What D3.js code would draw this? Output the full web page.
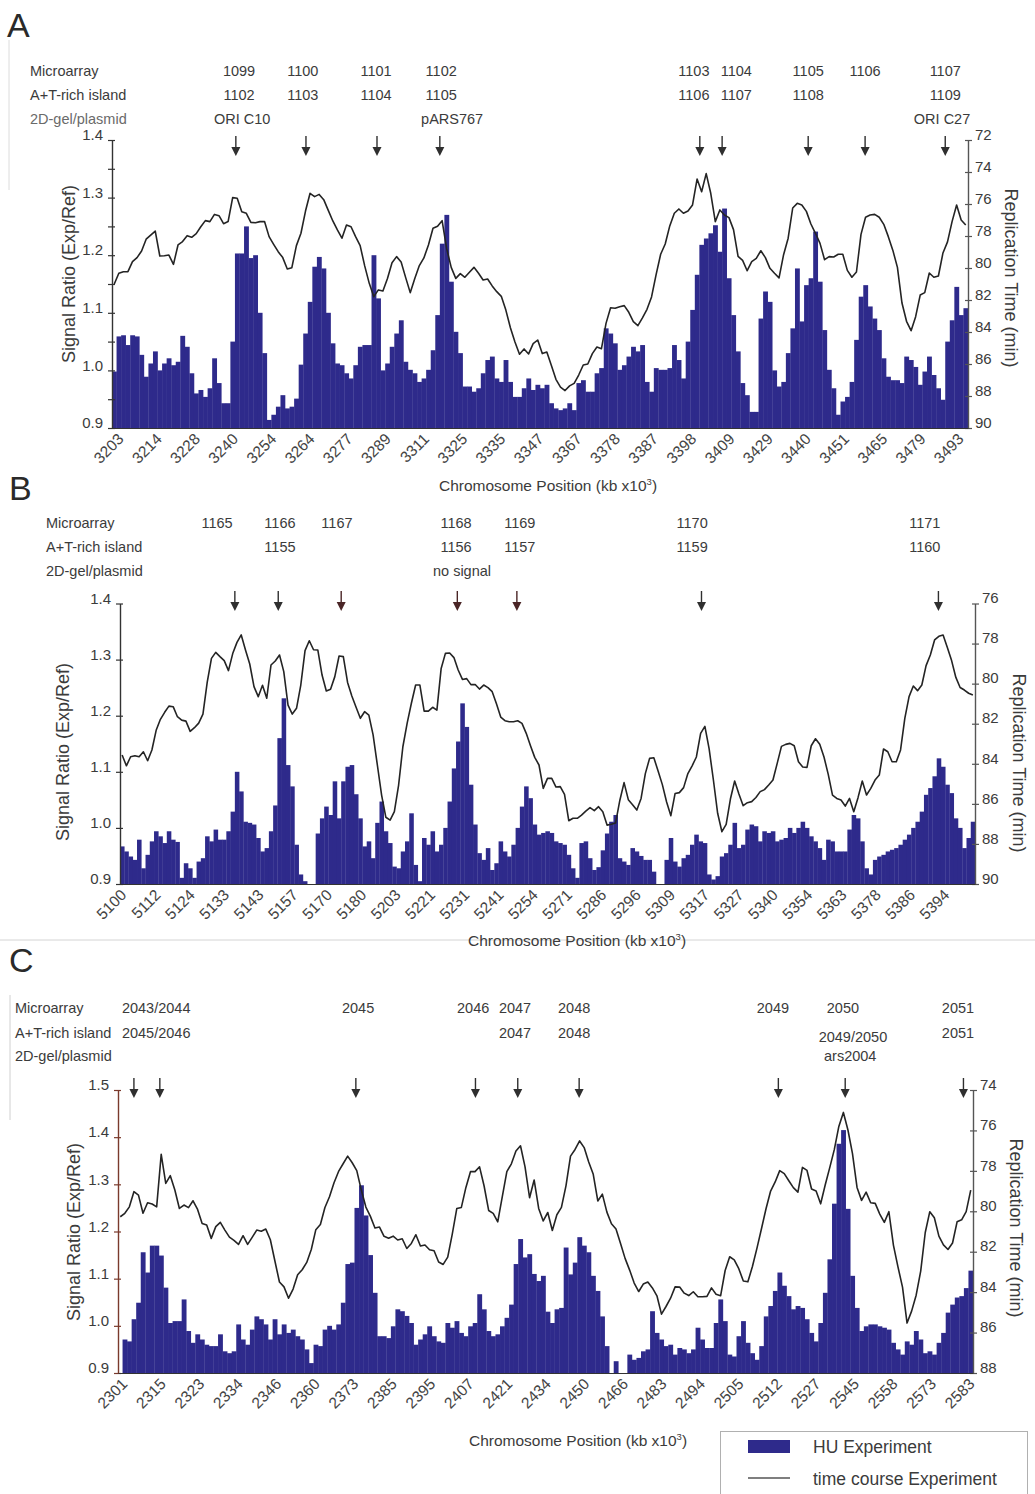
<!DOCTYPE html>
<html>
<head>
<meta charset="utf-8">
<script src="https://cdn.jsdelivr.net/npm/d3@7"></script>
<style>
  body { margin: 0; background: #fff; }
  svg { display: block; }
  text { font-family: "Liberation Sans", Arial, Helvetica, sans-serif; fill: #3b3b3b; }
</style>
</head>
<body>
<script>
// ---------- Panel A : chromosome segment 3203-3493 kb ----------
const A_signal = [
  0.998,1.059,1.061,1.044,1.061,1.059,1.027,0.989,1.012,1.033,
  1.0,1.012,1.021,1.009,1.015,1.06,1.041,0.995,0.96,0.966,
  0.954,0.969,1.021,0.978,0.943,0.943,1.05,1.203,1.203,1.25,
  1.195,1.2,1.1,1.03,0.914,0.923,0.937,0.957,0.934,0.937,
  0.951,1.01,1.064,1.119,1.18,1.197,1.177,1.1,1.047,1.012,
  1.009,0.995,0.986,1.009,1.041,1.044,1.044,1.2,1.125,1.0,
  1.012,1.041,1.064,1.087,1.015,1.001,0.995,0.98,0.986,1.001,
  1.035,1.096,1.22,1.27,1.154,1.067,1.03,0.972,0.972,0.963,
  0.969,0.995,1.018,1.024,0.986,0.98,1.018,0.98,0.954,0.954,
  0.969,0.986,0.966,0.975,0.969,0.975,0.943,0.934,0.931,0.934,
  0.943,0.931,0.978,0.983,0.963,0.963,0.995,1.004,1.073,1.064,
  1.047,1.001,1.009,1.024,1.041,1.033,1.044,0.98,0.963,1.004,
  1.001,1.001,1.004,1.044,1.018,0.986,1.05,1.105,1.166,1.218,
  1.229,1.238,1.252,1.206,1.281,1.16,1.096,1.033,0.978,0.957,
  0.928,0.928,1.09,1.137,1.119,1.0,0.972,0.98,1.03,1.073,
  1.177,1.085,1.148,1.16,1.241,1.154,1.07,1.001,0.969,0.923,
  0.946,0.954,0.98,1.053,1.128,1.148,1.111,1.09,1.07,1.021,
  0.989,0.983,0.983,0.978,1.024,1.018,1.006,0.975,0.998,1.024,
  0.992,0.969,0.949,1.05,1.087,1.145,1.096,1.108
];
const A_time = [
  81.0,80.33,80.23,80.23,79.6,79.35,78.94,78.2,77.94,77.69,
  79.25,79.23,79.19,79.77,78.56,78.35,77.98,78.08,77.85,77.42,
  77.04,77.1,76.65,76.73,77.23,77.1,75.6,75.64,76.48,76.58,
  77.15,77.17,77.1,77.1,78.04,78.52,78.98,79.35,80.06,79.98,
  78.6,77.83,76.44,75.33,75.54,75.4,75.73,76.4,77.06,77.62,
  78.14,77.31,77.42,78.04,78.6,79.87,80.96,81.79,81.37,81.44,
  80.66,79.67,79.29,79.62,80.6,81.54,80.65,79.85,79.37,78.56,
  77.52,77.39,77.04,78.79,79.96,80.65,80.35,80.58,80.27,79.96,
  80.33,80.75,80.69,81.12,81.48,81.77,82.63,83.73,84.62,85.39,
  85.06,85.37,84.73,84.5,85.35,85.25,86.1,86.96,87.44,87.66,
  87.37,87.21,86.69,86.06,86.0,85.35,84.94,85.04,83.46,82.48,
  82.52,82.42,82.35,82.77,83.35,83.6,83.12,82.58,81.81,80.41,
  79.14,78.5,77.37,76.58,76.31,76.58,76.44,76.06,74.44,75.23,
  74.1,75.33,77.1,76.37,76.69,76.85,77.6,79.27,79.52,80.17,
  79.6,79.4,78.92,79.35,80.02,80.33,80.62,79.17,78.14,76.25,
  75.96,76.06,76.46,77.25,77.83,78.46,79.48,79.29,79.31,79.14,
  79.14,80.15,80.58,80.25,77.9,76.83,76.69,76.65,76.83,77.27,
  78.04,78.9,79.96,82.19,83.33,83.92,83.04,81.69,81.54,80.31,
  80.58,80.5,79.06,78.37,77.1,76.06,77.0,77.31
];
const A_positions = ["3203","3214","3228","3240","3254","3264","3277","3289","3311","3325","3335","3347",
  "3367","3378","3387","3398","3409","3429","3440","3451","3465","3479","3493"];
const A_sites = [27.9, 41.9, 58.0, 72.3, 127.8, 137.1, 152.9, 165.4, 183.0];
const A_microarray = ["1099","1100","1101","1102","1103","1104","1105","1106","1107"];
const A_island = ["1102","1103","1104","1105","1106","1107","1108","","1109"];
const A_gelSites = [28.6, 74.7, 182.3];
const A_gel = ["ORI C10","pARS767","ORI C27"];
const A_arrows = [27.2, 42.6, 58.2, 72.0, 129.1, 134.0, 152.9, 165.4, 183.0];

// ---------- Panel B : chromosome segment 5100-5394 kb ----------
const B_signal = [
  0.967,0.958,0.949,0.943,0.979,0.928,0.952,0.976,0.994,0.985,
  0.973,0.994,0.979,0.975,0.911,0.937,0.928,0.911,0.94,0.946,
  0.985,0.976,0.997,0.979,0.979,0.994,1.029,1.1,1.065,1.011,
  1.009,1.006,0.982,0.958,0.964,0.994,1.04,1.16,1.231,1.112,
  1.074,0.97,0.917,0.905,0.9,0.9,0.99,1.017,1.038,1.023,
  1.083,1.017,1.083,1.109,1.112,1.06,1.017,0.967,0.976,0.946,
  1.009,1.047,0.994,0.973,0.931,0.928,0.958,0.976,1.026,0.934,
  0.905,0.982,0.97,0.994,0.958,0.97,1.0,1.047,1.106,1.154,
  1.222,1.18,1.077,1.006,0.955,0.943,0.964,0.925,0.937,0.976,
  0.958,0.949,0.97,1.0,1.038,1.074,1.053,1.006,0.988,0.991,
  0.994,0.991,0.976,0.973,0.97,0.952,0.928,0.911,0.973,0.976,
  0.946,0.925,0.93,0.96,0.99,1.011,1.023,0.946,0.94,0.934,
  0.964,0.958,0.95,0.943,0.943,0.922,0.9,0.9,0.943,0.982,
  0.94,0.931,0.946,0.952,0.97,0.988,0.976,0.973,0.917,0.908,
  0.914,0.949,0.955,0.97,1.009,0.964,0.97,0.997,1.006,1.003,
  0.976,0.994,0.991,0.994,0.976,0.979,0.982,1.0,0.991,1.0,
  1.011,1.0,0.985,0.976,0.964,0.943,0.979,0.976,0.958,0.958,
  0.958,0.997,1.023,1.017,0.976,0.928,0.917,0.943,0.949,0.952,
  0.958,0.961,0.964,0.97,0.979,0.988,1.0,1.011,1.029,1.059,
  1.071,1.092,1.124,1.109,1.077,1.062,1.017,1.0,0.964,0.982,1.011
];
const B_time = [
  83.56,84.1,83.65,83.6,83.65,83.4,83.85,83.31,82.33,81.78,
  81.43,81.12,81.15,81.65,81.82,81.87,82.38,82.2,81.97,81.52,
  79.94,78.74,78.44,78.65,78.85,79.35,78.5,77.94,77.57,78.32,
  79.02,80.15,80.65,80.08,80.73,79.07,78.87,78.57,79.4,81.07,
  81.52,81.23,80.07,78.35,77.86,78.31,78.32,79.57,80.37,80.28,
  79.65,78.62,78.65,79.94,80.62,81.18,81.73,81.4,81.57,82.56,
  84.06,85.56,86.67,86.81,86.39,85.06,83.15,81.98,80.98,80.07,
  80.07,81.37,81.37,81.18,81.32,79.24,78.49,78.47,78.7,79.32,
  79.79,79.75,80.05,80.04,80.27,80.07,80.2,80.4,81.0,81.67,
  81.85,81.9,81.9,81.85,81.98,82.48,83.1,83.68,84.06,85.23,
  84.73,84.73,85.16,85.14,85.53,86.84,86.72,86.72,86.56,86.36,
  86.19,86.34,86.14,86.39,87.06,87.02,86.96,85.83,84.94,85.79,
  86.04,86.31,85.73,84.49,83.73,83.7,84.36,85.04,85.91,86.59,
  85.48,85.44,85.19,84.49,84.1,83.66,82.48,82.13,83.26,84.81,
  86.47,87.39,87.02,85.76,84.86,85.51,86.09,85.94,85.89,85.68,
  85.39,85.29,85.06,84.81,83.98,83.13,83.03,82.98,83.1,83.9,
  84.16,84.18,83.1,82.75,83.03,83.66,84.53,85.56,85.73,85.81,
  86.11,85.73,86.39,85.69,84.86,85.56,85.23,84.81,84.56,83.26,
  83.4,83.9,83.9,83.31,81.73,80.65,80.12,80.35,80.07,79.1,
  78.57,77.82,77.64,77.57,78.2,78.85,79.69,80.19,80.32,80.48,80.57
];
const B_positions = ["5100","5112","5124","5133","5143","5157","5170","5180","5203","5221","5231","5241",
  "5254","5271","5286","5296","5309","5317","5327","5340","5354","5363","5378","5386","5394"];
const B_sites = [22.8, 37.6, 51.0, 79.0, 94.0, 134.5, 189.2];
const B_microarray = ["1165","1166","1167","1168","1169","1170","1171"];
const B_island = ["","1155","","1156","1157","1159","1160"];
const B_gelSites = [80.4];
const B_gel = ["no signal"];
const B_arrows = [27.0, 37.2, 52.0, 79.3, 93.3, 136.7, 192.4];

// ---------- Panel C : chromosome segment 2301-2583 kb ----------
const C_signal = [
  0.9,0.971,0.967,1.014,1.049,1.156,1.113,1.17,1.17,1.149,
  1.081,1.006,1.01,1.01,1.056,0.989,0.964,0.982,0.971,0.96,
  0.957,0.957,0.982,0.946,0.942,0.946,1.003,0.971,0.96,0.992,
  1.02,1.014,1.003,0.971,1.014,0.982,1.003,0.985,0.992,0.978,
  0.971,0.95,0.921,0.96,0.957,0.992,1.0,0.992,1.003,1.049,
  1.131,1.134,1.25,1.298,1.234,1.15,1.07,0.978,0.978,0.974,
  0.999,1.035,1.031,1.021,1.006,0.96,0.971,0.982,0.999,0.978,
  0.967,0.964,1.006,0.996,1.01,0.985,0.978,0.999,1.006,1.067,
  1.035,0.989,0.978,0.982,0.999,1.017,1.045,1.131,1.184,1.145,
  1.152,1.11,1.095,1.106,1.03,1.006,1.035,1.038,1.166,1.109,
  1.134,1.188,1.17,1.156,1.106,1.074,1.02,0.957,0.9,0.925,
  0.9,0.9,0.939,0.928,0.932,0.946,0.95,1.031,0.985,0.971,
  0.957,0.96,0.939,0.953,0.95,0.942,0.95,0.996,0.971,0.953,
  0.953,1.006,1.056,1.01,0.939,0.935,0.978,1.01,0.964,0.942,
  0.928,0.957,1.02,1.042,1.074,1.113,1.085,1.063,1.035,1.042,
  1.038,1.014,0.985,0.967,1.006,1.07,1.141,1.259,1.386,1.415,
  1.248,1.106,1.038,0.989,0.999,1.003,1.003,0.999,0.996,0.992,
  0.964,0.95,0.939,0.967,0.96,0.989,0.971,0.942,0.946,0.939,
  0.964,0.985,1.028,1.045,1.06,1.063,1.08,1.117
];
const C_time = [
  80.27,80.1,79.78,79.03,79.2,80.1,79.58,79.64,79.78,77.18,
  78.62,78.24,78.95,79.86,79.69,79.82,79.48,79.91,80.6,80.68,
  81.34,80.76,80.55,80.93,81.28,81.44,81.64,81.21,81.64,81.29,
  80.93,80.99,80.88,81.41,82.46,83.5,83.74,84.3,83.85,83.14,
  82.89,82.53,81.89,80.91,80.65,79.81,79.28,78.59,78.03,77.65,
  77.27,77.6,77.99,78.95,79.79,80.25,80.83,80.78,81.24,81.33,
  81.23,81.42,81.36,81.84,81.59,81.16,81.72,81.67,81.9,81.95,
  82.51,82.63,82.27,81.13,79.86,79.81,78.82,78.04,78.04,77.8,
  78.75,79.96,80.1,80.52,79.28,78.04,77.65,77.02,76.76,77.8,
  79.33,78.45,79.86,80.48,80.06,80.95,80.17,79.81,78.74,77.27,
  76.94,76.52,76.85,77.56,78.17,79.49,79.15,80.04,80.62,80.88,
  81.59,82.33,82.91,83.55,83.97,83.6,83.5,83.79,84.18,85.09,
  84.71,84.3,83.74,83.75,84.05,84.17,83.98,84.23,84.23,84.21,
  83.79,84.1,84.18,82.93,82.25,82.4,82.84,83.45,83.49,82.73,
  81.82,80.85,79.86,79.0,78.55,77.99,78.14,78.49,78.83,79.05,
  77.83,77.98,78.9,79.0,79.63,78.7,77.84,76.95,75.8,75.11,
  75.98,77.15,78.82,79.46,79.05,79.58,79.61,80.14,80.55,80.02,
  81.67,82.75,83.75,85.53,84.94,84.15,82.96,81.05,80.02,80.32,
  81.23,81.66,81.89,81.57,80.52,80.42,80.02,78.95
];
const C_positions = ["2301","2315","2323","2334","2346","2360","2373","2385","2395","2407","2421","2434",
  "2450","2466","2483","2494","2505","2512","2527","2545","2558","2573","2583"];
const C_sites = [8.4, 52.8, 78.1, 87.3, 100.3, 144.0, 159.4, 184.7];
const C_microarray = ["2043/2044","2045","2046","2047","2048","2049","2050","2051"];
const C_islandSites = [8.4, 87.3, 100.3, 161.6, 184.7];
const C_island = ["2045/2046","2047","2048","2049/2050","2051"];
const C_gelSites = [161.0];
const C_gel = ["ars2004"];
const C_arrows = [3.5, 9.2, 52.3, 78.6, 87.9, 101.4, 145.2, 159.9, 185.9];

const ROW_NAMES = ["Microarray", "A+T-rich island", "2D-gel/plasmid"];
const BAR_COLOR = "#2e2a8b";
const LINE_COLOR = "#242424";

const svg = d3.select("body").append("svg")
  .attr("width", 1035).attr("height", 1494);
svg.append("rect").attr("width", 1035).attr("height", 1494).attr("fill", "#fff");

// faint scan edges / separator
svg.append("line").attr("x1", 0).attr("x2", 1035).attr("y1", 940).attr("y2", 940)
  .attr("stroke", "#d4d4d4").attr("stroke-width", 1);
svg.append("line").attr("x1", 9).attr("x2", 9).attr("y1", 40).attr("y2", 190)
  .attr("stroke", "#dcdcdc");
svg.append("line").attr("x1", 10).attr("x2", 10).attr("y1", 995).attr("y2", 1120)
  .attr("stroke", "#d0d0d0");

function drawPanel(p) {
  const g = svg.append("g");
  const N = p.signal.length;
  const x = d3.scaleBand().domain(d3.range(N)).range([p.left, p.right]).padding(0);
  const xi = d3.scaleLinear().domain([0, N]).range([p.left, p.right]);
  const y = d3.scaleLinear().domain(p.yDomain).range([p.bottom, p.top]);
  const t = d3.scaleLinear().domain(p.tDomain).range([p.top, p.bottom]);

  // panel letter
  g.append("text").attr("x", p.letterX).attr("y", p.letterY)
    .attr("font-size", 34).style("fill", "#2a2a2a").text(p.letter);

  // header table
  p.rowY.forEach((ry, r) => {
    g.append("text").attr("x", p.rowX).attr("y", ry).attr("font-size", 14.5)
      .style("fill", r === 2 && p.letter === "A" ? "#6a6a6a" : "#3b3b3b")
      .text(ROW_NAMES[r]);
  });
  const rows = [
    { sites: p.sites, labels: p.microarray },
    { sites: p.islandSites || p.sites, labels: p.island },
    { sites: p.gelSites, labels: p.gel }
  ];
  rows.forEach((row, r) => {
    g.append("g").selectAll("text")
      .data(row.labels.map((l, i) => ({ l, s: row.sites[i] })).filter(d => d.l !== ""))
      .join("text")
      .attr("x", d => xi(d.s)).attr("y", d => p.rowY[r] + ((p.lowered || []).includes(d.l) ? 4 : 0))
      .attr("text-anchor", "middle").attr("font-size", 14.5)
      .text(d => d.l);
  });

  // arrows marking origins
  const ag = g.append("g");
  p.arrows.forEach((a, k) => {
    const ax = xi(a);
    const col = (p.redArrows || []).includes(k) ? "#4a2526" : "#2f2f2f";
    ag.append("line").attr("x1", ax).attr("x2", ax).attr("y1", p.arrowY).attr("y2", p.arrowY + 13)
      .attr("stroke", col).attr("stroke-width", 1.4);
    ag.append("path")
      .attr("d", `M${ax - 4.5},${p.arrowY + 11}L${ax + 4.5},${p.arrowY + 11}L${ax},${p.arrowY + 20}Z`)
      .attr("fill", col);
  });

  // bars (HU experiment)
  g.append("g").selectAll("rect").data(p.signal).join("rect")
    .attr("x", (d, i) => x(i))
    .attr("width", x.bandwidth() + 0.3)
    .attr("y", d => y(d))
    .attr("height", d => Math.max(0, y(p.yDomain[0]) - y(d)))
    .attr("fill", BAR_COLOR);

  // line (time course experiment)
  const line = d3.line()
    .x((d, i) => x(i) + x.bandwidth() / 2)
    .y(d => t(d));
  g.append("path").datum(p.time).attr("d", line)
    .attr("fill", "none").attr("stroke", LINE_COLOR).attr("stroke-width", 1.6)
    .attr("stroke-linejoin", "round");

  // left axis
  const fmt = d3.format(".1f");
  const la = g.append("g").attr("transform", `translate(${p.left},0)`)
    .call(d3.axisLeft(y).tickValues(p.yTicks).tickSizeInner(4).tickSizeOuter(0)
      .tickFormat(d => Math.abs(d * 10 - Math.round(d * 10)) < 1e-6 ? fmt(d) : ""));
  la.select(".domain").attr("stroke", p.leftAxisColor).attr("stroke-width", 1.4);
  la.selectAll(".tick line").attr("x1", 3).attr("stroke", p.leftAxisColor).attr("stroke-width", 1.2);
  la.selectAll(".tick text").attr("font-size", 15).attr("dx", "-2").attr("dy", "-0.02em")
    .style("fill", "#3b3b3b").attr("font-family", null);

  // right axis
  const ra = g.append("g").attr("transform", `translate(${p.right},0)`)
    .call(d3.axisRight(t).tickValues(p.tTicks).tickSizeInner(4).tickSizeOuter(0));
  ra.select(".domain").attr("stroke", "#555").attr("stroke-width", 1.4);
  ra.selectAll(".tick line").attr("x1", -3).attr("stroke", "#555").attr("stroke-width", 1.2);
  ra.selectAll(".tick text").attr("font-size", 15).attr("dy", "-0.05em")
    .style("fill", "#3b3b3b").attr("font-family", null);

  // bottom axis with rotated position labels
  const n = p.positions.length;
  const tickPos = d3.range(n).map(j => p.labelSpan[0] + j * (p.labelSpan[1] - p.labelSpan[0]) / (n - 1));
  const ba = g.append("g").attr("transform", `translate(0,${p.bottom})`)
    .call(d3.axisBottom(xi).tickValues(tickPos).tickSize(0).tickSizeOuter(0)
      .tickFormat((d, i) => p.positions[i]));
  ba.select(".domain").attr("stroke", "#333").attr("stroke-width", 1.2);
  ba.selectAll(".tick text")
    .attr("font-size", 15.5).attr("font-family", null).style("fill", "#444")
    .attr("text-anchor", "end").attr("dy", null).attr("y", 0)
    .attr("transform", "translate(3,12) rotate(-45)");

  // axis titles
  g.append("text").attr("transform", `translate(${p.leftTitleX},${p.leftTitleY}) rotate(-90)`)
    .attr("text-anchor", "middle").attr("font-size", 18).text("Signal Ratio (Exp/Ref)");
  g.append("text").attr("transform", `translate(${p.rightTitleX},${p.rightTitleY}) rotate(90)`)
    .attr("text-anchor", "middle").attr("font-size", 18).text("Replication Time (min)");
  const xt = g.append("text").attr("x", p.xTitleX).attr("y", p.xTitleY)
    .attr("text-anchor", "middle").attr("font-size", 15.5);
  xt.append("tspan").text("Chromosome Position (kb x10");
  xt.append("tspan").attr("font-size", 9.5).attr("dy", -6).text("3");
  xt.append("tspan").attr("dy", 6).text(")");
}

drawPanel({
  letter: "A", letterX: 7, letterY: 37,
  rowX: 30, rowY: [76, 100, 124], arrowY: 136,
  sites: A_sites, microarray: A_microarray, island: A_island,
  gelSites: A_gelSites, gel: A_gel, arrows: A_arrows,
  signal: A_signal, time: A_time, positions: A_positions, labelSpan: [2.0, 186.5],
  left: 112, right: 968, top: 140, bottom: 428,
  yDomain: [0.9, 1.4], yTicks: d3.range(0, 11).map(i => 0.9 + i * 0.05),
  tDomain: [72, 90], tTicks: d3.range(72, 91, 2),
  leftAxisColor: "#333",
  leftTitleX: 75, leftTitleY: 274, rightTitleX: 1005, rightTitleY: 278,
  xTitleX: 548, xTitleY: 491
});

drawPanel({
  letter: "B", letterX: 9, letterY: 500,
  rowX: 46, rowY: [528, 552, 576], arrowY: 591,
  sites: B_sites, microarray: B_microarray, island: B_island,
  gelSites: B_gelSites, gel: B_gel, arrows: B_arrows, redArrows: [2, 3, 4],
  signal: B_signal, time: B_time, positions: B_positions, labelSpan: [0.9, 194.4],
  left: 120, right: 975, top: 603.5, bottom: 884,
  yDomain: [0.9, 1.4], yTicks: d3.range(0, 6).map(i => 0.9 + i * 0.1),
  tDomain: [76, 90], tTicks: d3.range(76, 91, 2),
  leftAxisColor: "#333",
  leftTitleX: 69, leftTitleY: 752, rightTitleX: 1013, rightTitleY: 763,
  xTitleX: 577, xTitleY: 946
});

drawPanel({
  letter: "C", letterX: 9, letterY: 972,
  rowX: 15, rowY: [1013, 1038, 1061], arrowY: 1078,
  sites: C_sites, microarray: C_microarray, islandSites: C_islandSites, island: C_island,
  gelSites: C_gelSites, gel: C_gel, arrows: C_arrows, lowered: ["2049/2050"],
  signal: C_signal, time: C_time, positions: C_positions, labelSpan: [1.5, 187.8],
  left: 118, right: 973, top: 1090, bottom: 1373,
  yDomain: [0.9, 1.5], yTicks: d3.range(0, 7).map(i => 0.9 + i * 0.1),
  tDomain: [74, 88], tTicks: d3.range(74, 89, 2),
  leftAxisColor: "#7a3a2c",
  leftTitleX: 80, leftTitleY: 1232, rightTitleX: 1010, rightTitleY: 1228,
  xTitleX: 578, xTitleY: 1446
});

// legend
const lg = svg.append("g");
lg.append("rect").attr("x", 720.5).attr("y", 1431.5).attr("width", 307).attr("height", 80)
  .attr("fill", "#fff").attr("stroke", "#b0b0b0");
lg.append("rect").attr("x", 748).attr("y", 1440).attr("width", 42).attr("height", 13).attr("fill", BAR_COLOR);
lg.append("text").attr("x", 813).attr("y", 1453).attr("font-size", 17.5).text("HU Experiment");
lg.append("line").attr("x1", 748).attr("x2", 790).attr("y1", 1478).attr("y2", 1478)
  .attr("stroke", "#555").attr("stroke-width", 1.5);
lg.append("text").attr("x", 813).attr("y", 1485).attr("font-size", 17.5).text("time course Experiment");
</script>
</body>
</html>
